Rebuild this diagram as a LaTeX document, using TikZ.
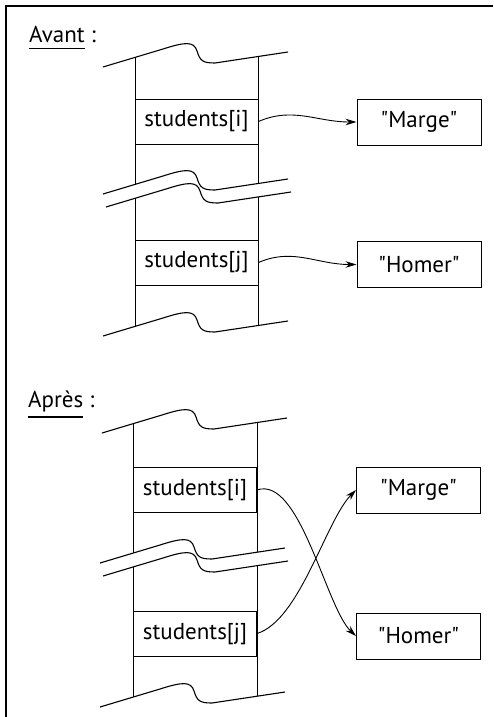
\documentclass[tikz,border=0pt]{standalone}
\usepackage{fontspec}
\setmainfont{PT Sans}
\usetikzlibrary{arrows.meta}

% word with a thick rule under it, placed below its depth
\newcommand\ulword[1]{\setbox0=\hbox{#1}\rlap{\raisebox{\dimexpr-\dp0-6pt\relax}{\rule{\wd0}{1.3pt}}}\box0\relax}

% upper edge of a stretch of memory: white above, wavy cut line on top
\newcommand\topwave[1]{%
  \fill[white,shift={(#1)}] (0,0) -- (60,-18) .. controls (82,-25) and (91,-26) .. (94,-16)
     .. controls (97,-6) and (100,-4) .. (112,-4) -- (185,-15) -- (185,-45) -- (0,-45) -- cycle;
  \draw[wavy,shift={(#1)}] (0,0) -- (60,-18) .. controls (82,-25) and (91,-26) .. (94,-16)
     .. controls (97,-6) and (100,-4) .. (112,-4) -- (185,-15);}

% lower edge: white below, wavy cut line on top
\newcommand\bottomwave[1]{%
  \fill[white,shift={(#1)}] (0,0) -- (60,-18) .. controls (82,-25) and (91,-26) .. (94,-16)
     .. controls (97,-6) and (100,-4) .. (112,-4) -- (185,-15) -- (185,30) -- (0,30) -- cycle;
  \draw[wavy,shift={(#1)}] (0,0) -- (60,-18) .. controls (82,-25) and (91,-26) .. (94,-16)
     .. controls (97,-6) and (100,-4) .. (112,-4) -- (185,-15);}

% break in the middle: two parallel wavy lines with a white band between them
\newcommand\breakwave[1]{%
  \fill[white,shift={(#1)}] (0,0) -- (60,-18) .. controls (82,-25) and (91,-26) .. (94,-16)
     .. controls (97,-6) and (100,-4) .. (112,-4) -- (185,-15)
     -- (188,-2) -- (115,9) .. controls (103,9) and (100,7) .. (97,-3)
     .. controls (94,-13) and (85,-12) .. (63,-5) -- (3,13) -- cycle;
  \draw[wavy,shift={(#1)}] (0,0) -- (60,-18) .. controls (82,-25) and (91,-26) .. (94,-16)
     .. controls (97,-6) and (100,-4) .. (112,-4) -- (185,-15);
  \draw[wavy,shift={(#1)}] (3,13) -- (63,-5) .. controls (85,-12) and (94,-13) .. (97,-3)
     .. controls (100,7) and (103,9) .. (115,9) -- (188,-2);}

\begin{document}
\begin{tikzpicture}[x=1pt,y=-1pt,
  txt/.style={font=\fontsize{23}{27}\selectfont},
  cell/.style={txt,draw,line width=0.9pt,minimum width=123pt,minimum height=45pt,inner sep=0pt},
  strbox/.style={txt,draw,line width=1pt,minimum width=124pt,minimum height=46pt,inner sep=0pt},
  col/.style={line width=0.9pt},
  wavy/.style={line width=1.1pt},
  frameline/.style={line width=1.6pt},
  ptr/.style={line width=0.9pt,-{Stealth[length=11pt,width=6.5pt]}}]
\useasboundingbox (0,0) rectangle (493,717);

% frame
\draw[frameline] (6,717) -- (6,6) -- (493,6);

% ---------- Avant ----------
\node[txt,anchor=base west,inner sep=0pt] (avant) at (29,43) {\ulword{Avant} :};

\draw[col] (135,30) -- (135,350);
\draw[col] (258,30) -- (258,350);
\node[cell] (bi) at (196.5,121.5) {students[i]};
\node[cell] (bj) at (196.5,262.5) {students[j]};
\topwave{103,67}
\breakwave{103,194}
\bottomwave{103,336}

\node[strbox] (bm) at (419,122) {\textquotedbl Marge\textquotedbl};
\node[strbox] (bh) at (419,264.5) {\textquotedbl Homer\textquotedbl};
\draw[ptr] (bi.east) .. controls +(35,-15) and +(-40,0) .. (bm.west);
\draw[ptr] (bj.east) .. controls +(35,-15) and +(-40,0) .. (bh.west);

% ---------- Après ----------
\node[txt,anchor=base west,inner sep=0pt] (apres) at (28,407) {\ulword{Après} :};

\draw[col] (133,398) -- (133,717);
\draw[col] (257,398) -- (257,717);
\node[cell] (ai) at (195,490) {students[i]};
\node[cell] (aj) at (195,633.5) {students[j]};
\topwave{102,433}
\breakwave{100,563}
\bottomwave{100,707}

\node[strbox] (am) at (418.5,490) {\textquotedbl Marge\textquotedbl};
\node[strbox] (ah) at (418.5,636) {\textquotedbl Homer\textquotedbl};
\draw[ptr] (ai.east) .. controls +(43,-15) and +(-30,-28) .. (ah.west);
\draw[ptr] (aj.east) .. controls +(43,-13) and +(-30,30) .. (am.west);
\end{tikzpicture}
\end{document}
